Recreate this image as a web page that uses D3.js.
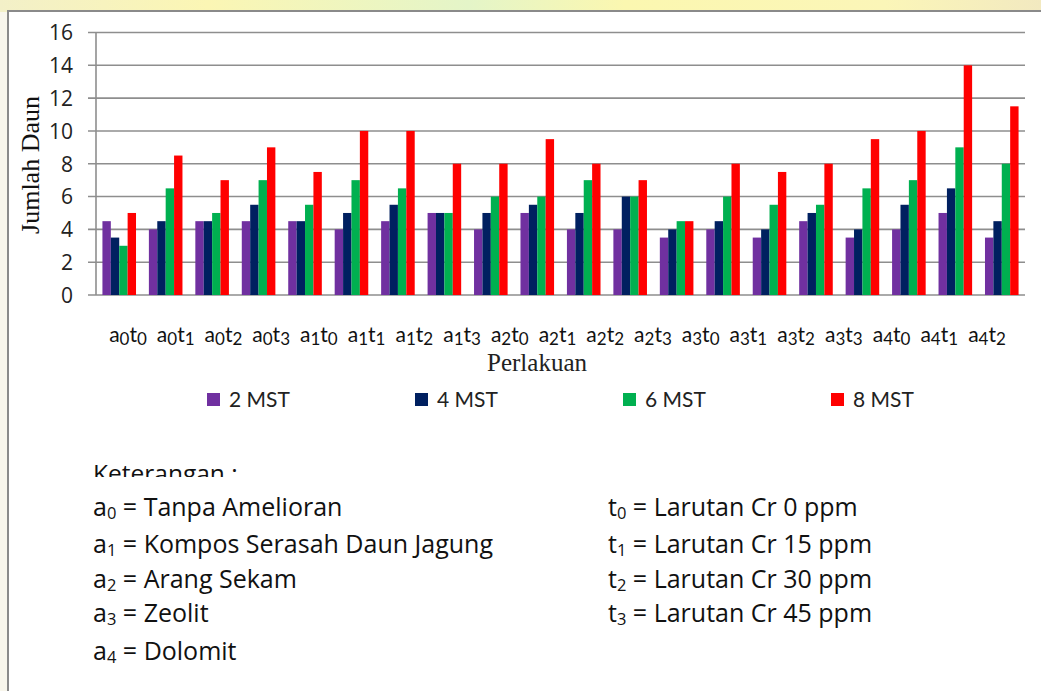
<!DOCTYPE html>
<html>
<head>
<meta charset="utf-8">
<script src="https://cdn.jsdelivr.net/npm/d3@7/dist/d3.min.js"></script>
<style>
  html, body { margin: 0; padding: 0; background: #fff; overflow: hidden; }
  svg { display: block; }
</style>
</head>
<body>
<svg id="chart" width="1041" height="691"></svg>
<script>
// ---- data ----
const categories = ["a0t0","a0t1","a0t2","a0t3","a1t0","a1t1","a1t2","a1t3","a2t0","a2t1",
                    "a2t2","a2t3","a3t0","a3t1","a3t2","a3t3","a4t0","a4t1","a4t2","a4t3"];
const seriesNames = ["2 MST","4 MST","6 MST","8 MST"];
const mst2 = [4.5,4,4.5,4.5,4.5,4,4.5,5,4,5,4,4,3.5,4,3.5,4.5,3.5,4,5,3.5];
const mst4 = [3.5,4.5,4.5,5.5,4.5,5,5.5,5,5,5.5,5,6,4,4.5,4,5,4,5.5,6.5,4.5];
const mst6 = [3,6.5,5,7,5.5,7,6.5,5,6,6,7,6,4.5,6,5.5,5.5,6.5,7,9,8];
const mst8 = [5,8.5,7,9,7.5,10,10,8,8,9.5,8,7,4.5,8,7.5,8,9.5,10,14,11.5];
const yTicks = [0,2,4,6,8,10,12,14,16];
const xTickLabels = ["a0t0","a0t1","a0t2","a0t3","a1t0","a1t1","a1t2","a1t3","a2t0","a2t1",
                     "a2t2","a2t3","a3t0","a3t1","a3t2","a3t3","a4t0","a4t1","a4t2"];
const notesLeft = [["a","0"," = Tanpa Amelioran"],["a","1"," = Kompos Serasah Daun Jagung"],
                   ["a","2"," = Arang Sekam"],["a","3"," = Zeolit"],["a","4"," = Dolomit"]];
const notesRight = [["t","0"," = Larutan Cr 0 ppm"],["t","1"," = Larutan Cr 15 ppm"],
                    ["t","2"," = Larutan Cr 30 ppm"],["t","3"," = Larutan Cr 45 ppm"]];

const series = [mst2, mst4, mst6, mst8];
const colors = ["#7030A0","#002060","#00B050","#FF0000"];

const svg = d3.select("#chart");
const sans = "Lato, 'Open Sans', sans-serif";
const sans2 = "'Open Sans', Lato, sans-serif";
const serif = "'Liberation Serif', 'DejaVu Serif', serif";

// ---- decorative background strip ----
svg.append("rect").attr("x",0).attr("y",0).attr("width",1041).attr("height",691).attr("fill","#f8f6ec");
const grad = svg.append("defs").append("linearGradient").attr("id","strip").attr("x1",0).attr("x2",1);
[["0","#f3f0c8"],["0.2","#fbf6b4"],["0.45","#e4f5c8"],["0.6","#fbf7b0"],["0.85","#fbf6b8"],["1","#f2e9c0"]]
  .forEach(s => grad.append("stop").attr("offset",s[0]).attr("stop-color",s[1]));
svg.append("rect").attr("x",0).attr("y",0).attr("width",1041).attr("height",12).attr("fill","url(#strip)");

// ---- chart frame (only top and left edges visible) ----
svg.append("rect").attr("x",8).attr("y",11).attr("width",1033).attr("height",680).attr("fill","#fff");
svg.append("line").attr("x1",7).attr("x2",1041).attr("y1",11).attr("y2",11)
  .attr("stroke","#8a8a8a").attr("stroke-width",2);
svg.append("line").attr("x1",8).attr("x2",8).attr("y1",10).attr("y2",691)
  .attr("stroke","#8a8a8a").attr("stroke-width",2);

// ---- scales ----
const x = d3.scaleBand().domain(categories).range([96,1025]).paddingInner(0.277).paddingOuter(0.1385);
const x1 = d3.scaleBand().domain(seriesNames).range([0, x.bandwidth()]);
const y = d3.scaleLinear().domain([0,16]).range([295,32.5]);

// gridlines
svg.append("g").selectAll("line").data(yTicks).join("line")
  .attr("x1",88).attr("x2",1025)
  .attr("y1",d=>y(d)).attr("y2",d=>y(d))
  .attr("stroke","#8e8e8e").attr("stroke-width",1.6);
// y axis line
svg.append("line").attr("x1",96).attr("x2",96).attr("y1",y(16)).attr("y2",y(0))
  .attr("stroke","#8e8e8e").attr("stroke-width",1.6);

// y axis via d3
const yAxis = d3.axisLeft(y).tickValues(yTicks).tickSize(0).tickPadding(0);
const gy = svg.append("g").attr("transform","translate(73,0)").call(yAxis);
gy.select(".domain").remove();
gy.selectAll("text").attr("font-family",sans2).attr("font-size",21).attr("fill","#222").attr("dy","0.35em");

// bars
const groups = svg.append("g").selectAll("g").data(categories).join("g")
  .attr("transform",d=>`translate(${x(d)},0)`);
groups.selectAll("rect").data((d,i)=>series.map((s,k)=>({k, v:s[i]}))).join("rect")
  .attr("x",d=>x1(seriesNames[d.k]))
  .attr("width",x1.bandwidth())
  .attr("y",d=>y(d.v))
  .attr("height",d=>y(0)-y(d.v))
  .attr("fill",d=>colors[d.k]);

// y axis title
svg.append("text").attr("transform","translate(39,165) rotate(-90)")
  .attr("text-anchor","middle").attr("font-family",serif).attr("font-size",26).attr("fill","#111")
  .text("Jumlah Daun");

// x axis title (partly covered by the label text box)
svg.append("text").attr("x",537).attr("y",371).attr("text-anchor","middle")
  .attr("font-family",serif).attr("font-size",25).attr("fill","#222").text("Perlakuan");
svg.append("rect").attr("x",100).attr("y",318).attr("width",920).attr("height",36).attr("fill","#fff");

// category labels text row
const xl = d3.scalePoint().domain(xTickLabels).range([128,987]);
function subText(sel, str, subSize) {
  str.split("").forEach((ch,i) => {
    const isDigit = /[0-9]/.test(ch);
    const prevDigit = i>0 && /[0-9]/.test(str[i-1]);
    const t = sel.append("tspan").text(ch);
    if (isDigit) { t.attr("font-size",subSize).attr("dy", prevDigit?0:3); }
    else if (prevDigit) { t.attr("dy",-3); }
  });
}
svg.append("g").selectAll("text").data(xTickLabels).join("text")
  .attr("x",d=>xl(d)).attr("y",342).attr("text-anchor","middle")
  .attr("font-family",sans).attr("font-size",21).attr("fill","#111")
  .each(function(d){ subText(d3.select(this), d, 17); });

// legend
const leg = svg.append("g").selectAll("g").data(seriesNames).join("g")
  .attr("transform",(d,i)=>`translate(${207+i*208},393)`);
leg.append("rect").attr("width",13).attr("height",13).attr("fill",(d,i)=>colors[i]);
leg.append("text").attr("x",22).attr("y",14).attr("font-family",sans).attr("font-size",21)
  .attr("fill","#222").text(d=>d);

// notes
svg.append("text").attr("x",93).attr("y",482).attr("font-family",sans2).attr("font-size",24.5)
  .attr("fill","#111").text("Keterangan :");
svg.append("rect").attr("x",60).attr("y",477).attr("width",900).attr("height",200).attr("fill","#fff");

function note(xp, yp, n) {
  const t = svg.append("text").attr("x",xp).attr("y",yp).attr("font-family",sans2)
    .attr("font-size",25).attr("fill","#111");
  t.append("tspan").text(n[0]);
  t.append("tspan").attr("font-size",16.5).attr("dy",3).text(n[1]);
  t.append("tspan").attr("dy",-3).text(n[2]);
}
const rowY = [516,553,588,622,660];
notesLeft.forEach((n,i)=>note(93,rowY[i],n));
notesRight.forEach((n,i)=>note(608,rowY[i],n));
</script>
</body>
</html>
